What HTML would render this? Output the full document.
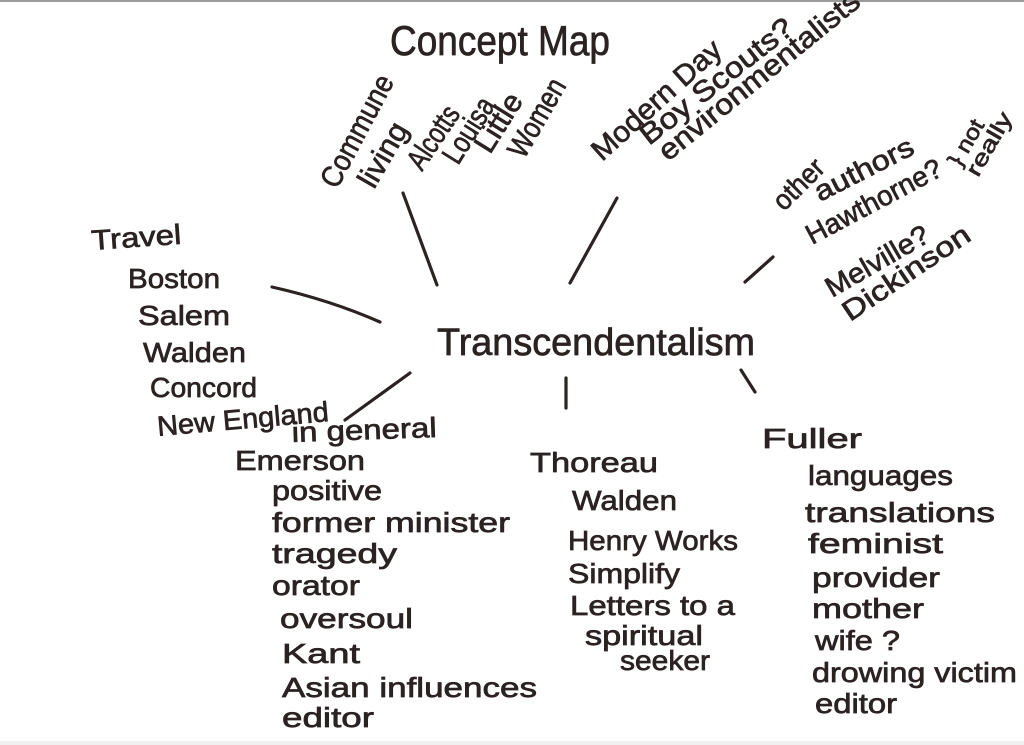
<!DOCTYPE html>
<html><head><meta charset="utf-8"><style>
html,body{margin:0;padding:0;background:#fff;}
svg{display:block;}
text{font-family:"Liberation Sans",sans-serif;fill:#2b2222;stroke:#2b2222;stroke-width:0.7;}
</style></head><body>
<svg width="1024" height="745" viewBox="0 0 1024 745" xmlns="http://www.w3.org/2000/svg">
<rect width="1024" height="745" fill="#fff"/>
<rect x="0" y="0" width="1024" height="2" fill="#9a9a9a"/>
<rect x="0" y="741" width="1024" height="4" fill="#f0f0f0"/>
<g stroke="#2b2222" stroke-width="3.2" stroke-linecap="round" fill="none">
<path d="M272 287 Q330 300 380 322"/>
<line x1="403" y1="193" x2="437" y2="285"/>
<line x1="617" y1="198" x2="570" y2="283"/>
<line x1="773" y1="257" x2="745" y2="282"/>
<line x1="410" y1="373" x2="345" y2="420"/>
<line x1="566" y1="378" x2="566" y2="408"/>
<line x1="741" y1="370" x2="755" y2="392"/>
</g>
<g font-size="28">
<text x="390" y="55" font-size="42" textLength="220" lengthAdjust="spacingAndGlyphs">Concept Map</text>
<text transform="translate(337,190) rotate(-62)" font-size="30" textLength="123" lengthAdjust="spacingAndGlyphs">Commune</text>
<text transform="translate(374,190) rotate(-60)" font-size="30" textLength="70" lengthAdjust="spacingAndGlyphs">living</text>
<text transform="translate(422,172) rotate(-56)" font-size="30" textLength="70" lengthAdjust="spacingAndGlyphs">Alcotts</text>
<text transform="translate(458,166) rotate(-58)" font-size="30" textLength="72" lengthAdjust="spacingAndGlyphs">Louisa</text>
<text transform="translate(490,155) rotate(-58)" font-size="30" textLength="64" lengthAdjust="spacingAndGlyphs">Little</text>
<text transform="translate(524,160) rotate(-60)" font-size="30" textLength="86" lengthAdjust="spacingAndGlyphs">Women</text>
<text transform="translate(602,162) rotate(-42)" font-size="29" textLength="164" lengthAdjust="spacingAndGlyphs">Modern Day</text>
<text transform="translate(649,146) rotate(-38)" font-size="29" textLength="186" lengthAdjust="spacingAndGlyphs">Boy Scouts?</text>
<text transform="translate(668,162) rotate(-39)" font-size="29" textLength="250" lengthAdjust="spacingAndGlyphs">environmentalists</text>
<text transform="translate(784,212) rotate(-45)" textLength="60" lengthAdjust="spacingAndGlyphs">other</text>
<text transform="translate(820,202) rotate(-27)" textLength="108" lengthAdjust="spacingAndGlyphs">authors</text>
<text transform="translate(812,245) rotate(-28)" textLength="150" lengthAdjust="spacingAndGlyphs">Hawthorne?</text>
<text transform="translate(960,168) rotate(-60)" font-size="22" textLength="50" lengthAdjust="spacingAndGlyphs">} not</text>
<text transform="translate(978,178) rotate(-60)" font-size="22" textLength="70" lengthAdjust="spacingAndGlyphs">really</text>
<text transform="translate(832,298) rotate(-30)" textLength="115" lengthAdjust="spacingAndGlyphs">Melville?</text>
<text transform="translate(850,322) rotate(-34)" textLength="148" lengthAdjust="spacingAndGlyphs">Dickinson</text>

<text transform="translate(92,250) rotate(-4)" textLength="90" lengthAdjust="spacingAndGlyphs">Travel</text>
<text x="128" y="288" textLength="92" lengthAdjust="spacingAndGlyphs">Boston</text>
<text x="138" y="325" textLength="92" lengthAdjust="spacingAndGlyphs">Salem</text>
<text x="143" y="362" textLength="103" lengthAdjust="spacingAndGlyphs">Walden</text>
<text x="150" y="397" textLength="107" lengthAdjust="spacingAndGlyphs">Concord</text>
<text transform="translate(158,436) rotate(-5)" textLength="172" lengthAdjust="spacingAndGlyphs">New England</text>
<text transform="translate(292,442) rotate(-2)" textLength="145" lengthAdjust="spacingAndGlyphs">in general</text>

<text x="437" y="355" font-size="38" textLength="318" lengthAdjust="spacingAndGlyphs">Transcendentalism</text>

<text x="235" y="470" textLength="130" lengthAdjust="spacingAndGlyphs">Emerson</text>
<text x="272" y="500" textLength="110" lengthAdjust="spacingAndGlyphs">positive</text>
<text x="272" y="532" textLength="238" lengthAdjust="spacingAndGlyphs">former minister</text>
<text x="272" y="563" textLength="125" lengthAdjust="spacingAndGlyphs">tragedy</text>
<text x="272" y="595" textLength="88" lengthAdjust="spacingAndGlyphs">orator</text>
<text x="280" y="628" textLength="133" lengthAdjust="spacingAndGlyphs">oversoul</text>
<text x="282" y="663" textLength="78" lengthAdjust="spacingAndGlyphs">Kant</text>
<text x="282" y="697" textLength="255" lengthAdjust="spacingAndGlyphs">Asian influences</text>
<text x="282" y="727" textLength="92" lengthAdjust="spacingAndGlyphs">editor</text>

<text x="530" y="472" textLength="128" lengthAdjust="spacingAndGlyphs">Thoreau</text>
<text x="572" y="510" textLength="105" lengthAdjust="spacingAndGlyphs">Walden</text>
<text x="568" y="550" textLength="170" lengthAdjust="spacingAndGlyphs">Henry Works</text>
<text x="568" y="583" textLength="112" lengthAdjust="spacingAndGlyphs">Simplify</text>
<text x="570" y="615" textLength="165" lengthAdjust="spacingAndGlyphs">Letters to a</text>
<text x="585" y="645" textLength="118" lengthAdjust="spacingAndGlyphs">spiritual</text>
<text x="620" y="670" textLength="90" lengthAdjust="spacingAndGlyphs">seeker</text>

<text x="762" y="448" textLength="100" lengthAdjust="spacingAndGlyphs">Fuller</text>
<text x="808" y="485" textLength="145" lengthAdjust="spacingAndGlyphs">languages</text>
<text x="805" y="522" textLength="190" lengthAdjust="spacingAndGlyphs">translations</text>
<text x="808" y="553" textLength="135" lengthAdjust="spacingAndGlyphs">feminist</text>
<text x="812" y="587" textLength="128" lengthAdjust="spacingAndGlyphs">provider</text>
<text x="812" y="618" textLength="112" lengthAdjust="spacingAndGlyphs">mother</text>
<text x="815" y="650" textLength="85" lengthAdjust="spacingAndGlyphs">wife ?</text>
<text x="812" y="682" textLength="205" lengthAdjust="spacingAndGlyphs">drowing victim</text>
<text x="815" y="713" textLength="82" lengthAdjust="spacingAndGlyphs">editor</text>
</g>
</svg>
</body></html>
